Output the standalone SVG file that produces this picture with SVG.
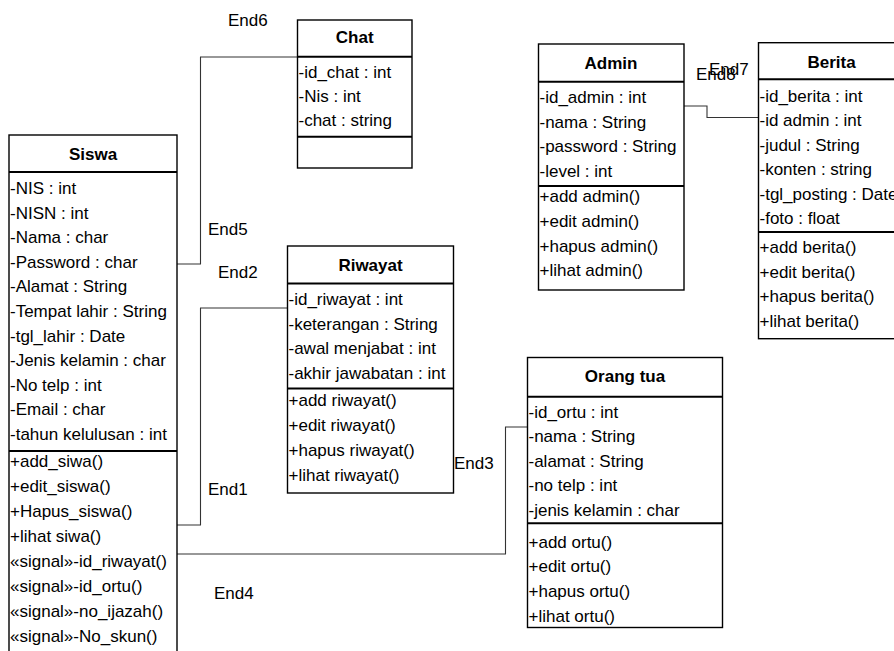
<svg xmlns="http://www.w3.org/2000/svg" width="894" height="651" viewBox="0 0 894 651">
<style>
text{font-family:"Liberation Sans",Arial,sans-serif;font-size:17px;fill:#000}
.t{font-weight:bold;text-anchor:middle}
.box{fill:#fff;stroke:#000;stroke-width:1.4}
.div{stroke:#000;stroke-width:2;fill:none}
.con{fill:none;stroke:#333;stroke-width:1.1}
</style>
<rect width="894" height="651" fill="#fff"/>
<g id="connectors">
<polyline class="con" points="177,264 200.5,264 200.5,57 297.5,57"/>
<polyline class="con" points="177,525 200.5,525 200.5,308 287.5,308"/>
<polyline class="con" points="177,554 505.5,554 505.5,427 527.5,427"/>
<polyline class="con" points="684,106 707,106 707,117.5 758.5,117.5"/>
<text x="228" y="26">End6</text>
<text x="208" y="235">End5</text>
<text x="218" y="278">End2</text>
<text x="208" y="495">End1</text>
<text x="214" y="599">End4</text>
<text x="454" y="469">End3</text>
<text x="709" y="75">End7</text>
<text x="696" y="80">End8</text>
</g>
<g id="siswa">
<rect class="box" x="9" y="135" width="168" height="530"/>
<line class="div" x1="9" y1="172" x2="177" y2="172"/>
<line class="div" x1="9" y1="451" x2="177" y2="451"/>
<text class="t" x="93" y="160">Siswa</text>
<text x="10" y="194">-NIS : int</text>
<text x="10" y="218.6">-NISN : int</text>
<text x="10" y="243.2">-Nama : char</text>
<text x="10" y="267.8">-Password : char</text>
<text x="10" y="292.4">-Alamat : String</text>
<text x="10" y="317">-Tempat lahir : String</text>
<text x="10" y="341.6">-tgl_lahir : Date</text>
<text x="10" y="366.2">-Jenis kelamin : char</text>
<text x="10" y="390.8">-No telp : int</text>
<text x="10" y="415.4">-Email : char</text>
<text x="10" y="440">-tahun kelulusan : int</text>
<text x="10" y="466.5">+add_siwa()</text>
<text x="10" y="491.5">+edit_siswa()</text>
<text x="10" y="516.5">+Hapus_siswa()</text>
<text x="10" y="541.5">+lihat siwa()</text>
<text x="10" y="566.5">«signal»-id_riwayat()</text>
<text x="10" y="591.5">«signal»-id_ortu()</text>
<text x="10" y="616.5">«signal»-no_ijazah()</text>
<text x="10" y="641.5">«signal»-No_skun()</text>
</g>
<g id="chat">
<rect class="box" x="297.5" y="20" width="114.5" height="148"/>
<line class="div" x1="297.5" y1="56.7" x2="412" y2="56.7"/>
<line class="div" x1="297.5" y1="136.7" x2="412" y2="136.7"/>
<text class="t" x="354.7" y="42.5">Chat</text>
<text x="298.5" y="78">-id_chat : int</text>
<text x="298.5" y="102">-Nis : int</text>
<text x="298.5" y="126">-chat : string</text>
</g>
<g id="riwayat">
<rect class="box" x="287.5" y="246" width="166" height="247"/>
<line class="div" x1="287.5" y1="283.5" x2="453.5" y2="283.5"/>
<line class="div" x1="287.5" y1="388.5" x2="453.5" y2="388.5"/>
<text class="t" x="370.5" y="270.5">Riwayat</text>
<text x="288.5" y="305">-id_riwayat : int</text>
<text x="288.5" y="329.7">-keterangan : String</text>
<text x="288.5" y="354.4">-awal menjabat : int</text>
<text x="288.5" y="379">-akhir jawabatan : int</text>
<text x="288.5" y="405.5">+add riwayat()</text>
<text x="288.5" y="430.5">+edit riwayat()</text>
<text x="288.5" y="455.5">+hapus riwayat()</text>
<text x="288.5" y="480.5">+lihat riwayat()</text>
</g>
<g id="orangtua">
<rect class="box" x="527.5" y="357.5" width="195" height="270"/>
<line class="div" x1="527.5" y1="396.7" x2="722.5" y2="396.7"/>
<line class="div" x1="527.5" y1="523.3" x2="722.5" y2="523.3"/>
<text class="t" x="625" y="382">Orang tua</text>
<text x="528.5" y="417.5">-id_ortu : int</text>
<text x="528.5" y="442">-nama  : String</text>
<text x="528.5" y="466.5" xml:space="preserve">-alamat : String</text>
<text x="528.5" y="491">-no telp : int</text>
<text x="528.5" y="515.5">-jenis kelamin : char</text>
<text x="528.5" y="547.5">+add ortu()</text>
<text x="528.5" y="572.3">+edit ortu()</text>
<text x="528.5" y="597.1">+hapus ortu()</text>
<text x="528.5" y="621.9">+lihat ortu()</text>
</g>
<g id="admin">
<rect class="box" x="538.5" y="44" width="145.5" height="246"/>
<line class="div" x1="538.5" y1="81.7" x2="684" y2="81.7"/>
<line class="div" x1="538.5" y1="186" x2="684" y2="186"/>
<text class="t" x="611" y="69">Admin</text>
<text x="539.5" y="103">-id_admin : int</text>
<text x="539.5" y="127.5">-nama : String</text>
<text x="539.5" y="152">-password : String</text>
<text x="539.5" y="176.5">-level : int</text>
<text x="539.5" y="202">+add admin()</text>
<text x="539.5" y="226.8">+edit admin()</text>
<text x="539.5" y="251.6">+hapus admin()</text>
<text x="539.5" y="276.4">+lihat admin()</text>
</g>
<g id="berita">
<rect class="box" x="758.5" y="42.7" width="146" height="296"/>
<line class="div" x1="758.5" y1="79.3" x2="904.5" y2="79.3"/>
<line class="div" x1="758.5" y1="232" x2="904.5" y2="232"/>
<text class="t" x="831.5" y="67.5">Berita</text>
<text x="759.5" y="101.5">-id_berita : int</text>
<text x="759.5" y="126">-id admin : int</text>
<text x="759.5" y="150.5">-judul : String</text>
<text x="759.5" y="175">-konten : string</text>
<text x="759.5" y="199.5">-tgl_posting : Date</text>
<text x="759.5" y="224">-foto : float</text>
<text x="759.5" y="253">+add berita()</text>
<text x="759.5" y="277.7">+edit berita()</text>
<text x="759.5" y="302.3">+hapus berita()</text>
<text x="759.5" y="327">+lihat berita()</text>
</g>
</svg>
